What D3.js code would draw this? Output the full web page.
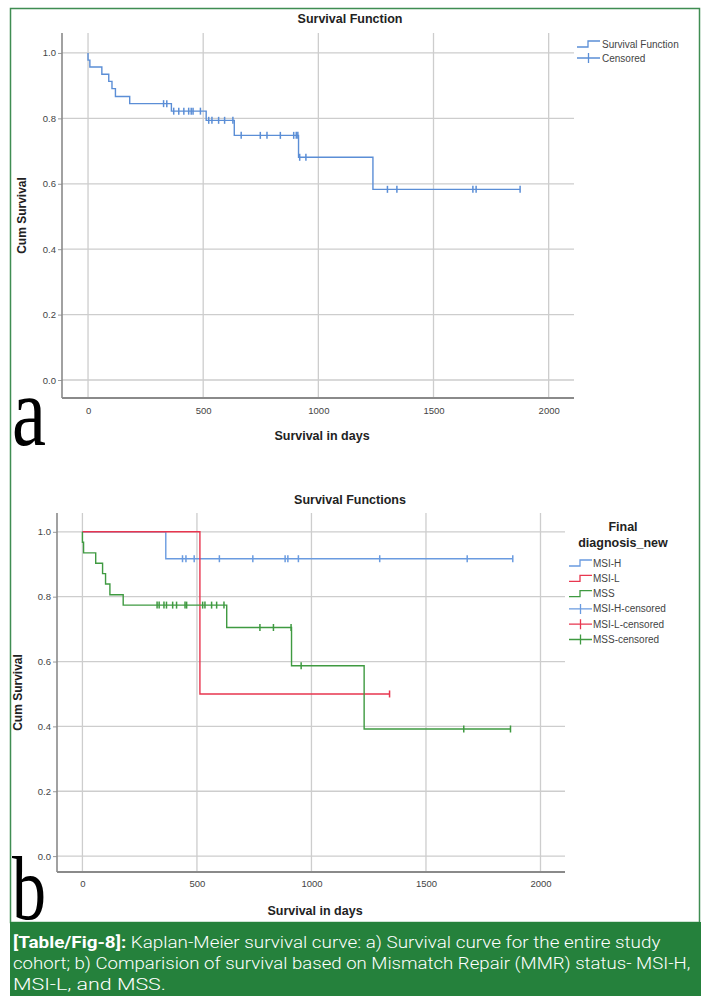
<!DOCTYPE html>
<html><head><meta charset="utf-8">
<script src="https://cdn.jsdelivr.net/npm/d3@7"></script>
<style>
html,body{margin:0;padding:0;background:#fff;}
svg{display:block;font-family:"Liberation Sans",Arial,sans-serif;}
</style></head>
<body>
<svg id="chart" width="701" height="996"></svg>
<script>
// ---------- DATA ----------
const xTicks = [0, 500, 1000, 1500, 2000];
const yTicks = [0.0, 0.2, 0.4, 0.6, 0.8, 1.0];

// Panel a: entire cohort
const allStepTimes = [0, 8, 60, 90, 104, 119, 181, 362, 513, 635, 914, 1237];
const allStepSurv  = [0.978, 0.957, 0.935, 0.913, 0.891, 0.867, 0.845, 0.822, 0.794, 0.748, 0.681, 0.583];
const allCensored  = [328, 342, 372, 394, 416, 437, 448, 456, 488, 524, 538, 567, 593, 629, 665, 748, 777, 835, 893, 904, 911, 919, 946, 1300, 1341, 1671, 1685, 1876];
const allEnd = 1876;

// Panel b: by MMR status
const groupNames = ["MSI-H", "MSI-L", "MSS"];
const msihStepTimes = [364];
const msihStepSurv  = [0.917];
const msihCensored  = [437, 452, 488, 598, 744, 885, 897, 943, 1298, 1680, 1879];
const msihEnd = 1879;

const msilStepTimes = [513];
const msilStepSurv  = [0.5];
const msilCensored  = [1341];
const msilEnd = 1341;

const mssStepTimes = [0, 5, 58, 88, 101, 120, 178, 630, 913, 1230];
const mssStepSurv  = [0.968, 0.935, 0.903, 0.871, 0.839, 0.806, 0.774, 0.705, 0.587, 0.392];
const mssCensored  = [326, 335, 356, 367, 394, 411, 448, 455, 525, 535, 564, 586, 618, 775, 834, 911, 955, 1665, 1869];
const mssEnd = 1869;

const legendA = ["Survival Function", "Censored"];
const legendB = ["MSI-H", "MSI-L", "MSS", "MSI-H-censored", "MSI-L-censored", "MSS-censored"];

// ---------- DRAW ----------
const svg = d3.select("#chart");
const W = 701, H = 996;
svg.append("rect").attr("width", W).attr("height", H).attr("fill", "#fff");

const GREEN = "#25813c";
const cols = {top: "#5b8ed6", "MSI-H": "#6a9be0", "MSI-L": "#e8364f", "MSS": "#3f9a41"};

function buildSteps(times, surv, end) {
  const pts = [[0, 1]];
  times.forEach((t, i) => pts.push([t, surv[i]]));
  pts.push([end, surv[surv.length - 1]]);
  return pts;
}
function survAt(times, surv, t) {
  let s = 1;
  times.forEach((tt, i) => { if (tt <= t) s = surv[i]; });
  return s;
}

function panel(cfg) {
  const g = svg.append("g");
  const x = d3.scaleLinear().domain(cfg.xd).range([cfg.left, cfg.right]);
  const y = d3.scaleLinear().domain(cfg.yd).range([cfg.bottom, cfg.top]);

  // grid
  g.append("g").selectAll("line").data(yTicks).join("line")
    .attr("x1", cfg.left).attr("x2", cfg.right)
    .attr("y1", d => y(d)).attr("y2", d => y(d))
    .attr("stroke", "#cdcdcd").attr("stroke-width", 1.3);
  g.append("g").selectAll("line").data(xTicks).join("line")
    .attr("x1", d => x(d)).attr("x2", d => x(d))
    .attr("y1", cfg.top).attr("y2", cfg.bottom)
    .attr("stroke", "#cdcdcd").attr("stroke-width", 1.3);

  // axes
  const ya = g.append("g").attr("transform", `translate(${cfg.left},0)`)
    .call(d3.axisLeft(y).tickValues(yTicks).tickFormat(d3.format(".1f")).tickSize(4).tickPadding(2));
  ya.select(".domain").remove();
  ya.selectAll("line").attr("stroke", "#999");
  ya.selectAll("text").attr("font-size", 9.5).attr("fill", "#444");
  const xa = g.append("g").attr("transform", `translate(0,${cfg.bottom})`)
    .call(d3.axisBottom(x).tickValues(xTicks).tickFormat(d3.format("d")).tickSize(0).tickPadding(cfg.xpad));
  xa.select(".domain").remove();
  xa.selectAll("text").attr("font-size", 9.5).attr("fill", "#444");
  g.append("line").attr("x1", cfg.left).attr("x2", cfg.left).attr("y1", cfg.top).attr("y2", cfg.bottom)
    .attr("stroke", "#8a8a8a").attr("stroke-width", 1.6);
  g.append("line").attr("x1", cfg.left).attr("x2", cfg.right).attr("y1", cfg.bottom).attr("y2", cfg.bottom)
    .attr("stroke", "#8a8a8a").attr("stroke-width", 1.8);

  // series
  const line = d3.line().x(d => x(d[0])).y(d => y(d[1])).curve(d3.curveStepAfter);
  cfg.series.forEach(s => {
    g.append("path").datum(buildSteps(s.times, s.surv, s.end))
      .attr("d", line).attr("fill", "none").attr("stroke", s.color).attr("stroke-width", 1.4);
    g.append("g").selectAll("line").data(s.cens).join("line")
      .attr("x1", d => x(d)).attr("x2", d => x(d))
      .attr("y1", d => y(survAt(s.times, s.surv, d)) - 3.5)
      .attr("y2", d => y(survAt(s.times, s.surv, d)) + 3.5)
      .attr("stroke", s.color).attr("stroke-width", 1.5);
  });

  // titles
  svg.append("text").attr("x", cfg.titleX).attr("y", cfg.titleY).attr("text-anchor", "middle")
    .attr("font-size", 12.5).attr("font-weight", "bold").attr("fill", "#222").text(cfg.title);
  svg.append("text").attr("x", (cfg.left + cfg.right) / 2 + 4).attr("y", cfg.xlabY).attr("text-anchor", "middle")
    .attr("font-size", 12.5).attr("font-weight", "bold").attr("fill", "#222").text("Survival in days");
  svg.append("text").attr("transform", `translate(${cfg.ylabX},${(cfg.top + cfg.bottom) / 2}) rotate(-90)`)
    .attr("text-anchor", "middle").attr("font-size", 12).attr("font-weight", "bold").attr("fill", "#222")
    .text("Cum Survival");
  return {x, y};
}

// Panel a
panel({
  left: 62, right: 574, top: 33, bottom: 398,
  xd: [-113, 2110], yd: [-0.055, 1.061], xpad: 9,
  title: "Survival Function", titleX: 350, titleY: 23, xlabY: 440, ylabX: 26,
  series: [{times: allStepTimes, surv: allStepSurv, end: allEnd, cens: allCensored, color: cols.top}]
});

// Panel b
panel({
  left: 57, right: 565, top: 513, bottom: 872,
  xd: [-111, 2107], yd: [-0.049, 1.058], xpad: 8,
  title: "Survival Functions", titleX: 350, titleY: 504, xlabY: 915, ylabX: 22,
  series: [
    {times: msihStepTimes, surv: msihStepSurv, end: msihEnd, cens: msihCensored, color: cols["MSI-H"]},
    {times: msilStepTimes, surv: msilStepSurv, end: msilEnd, cens: msilCensored, color: cols["MSI-L"]},
    {times: mssStepTimes, surv: mssStepSurv, end: mssEnd, cens: mssCensored, color: cols["MSS"]}
  ]
});

// Legend A
function stepIcon(g, x0, yc, color) {
  g.append("path").attr("d", `M${x0},${yc + 3}H${x0 + 11}V${yc - 3}H${x0 + 23}`)
    .attr("fill", "none").attr("stroke", color).attr("stroke-width", 1.3);
}
function censIcon(g, x0, yc, color) {
  g.append("path").attr("d", `M${x0},${yc}H${x0 + 23}M${x0 + 11.5},${yc - 5}V${yc + 5}`)
    .attr("fill", "none").attr("stroke", color).attr("stroke-width", 1.3);
}
const la = svg.append("g");
legendA.forEach((name, i) => {
  const yc = 44 + i * 14;
  if (i === 0) stepIcon(la, 577, yc, cols.top); else censIcon(la, 577, yc, cols.top);
  la.append("text").attr("x", 602).attr("y", yc + 3.5).attr("font-size", 10).attr("fill", "#444").text(name);
});

// Legend B
const lb = svg.append("g");
lb.append("text").attr("x", 623).attr("y", 531).attr("text-anchor", "middle").attr("font-size", 12.5)
  .attr("font-weight", "bold").attr("fill", "#222").text("Final");
lb.append("text").attr("x", 623).attr("y", 547).attr("text-anchor", "middle").attr("font-size", 12.5)
  .attr("font-weight", "bold").attr("fill", "#222").text("diagnosis_new");
legendB.forEach((name, i) => {
  const yc = 563 + i * 15.3;
  const c = cols[groupNames[i % 3]];
  if (i < 3) stepIcon(lb, 569, yc, c); else censIcon(lb, 569, yc, c);
  lb.append("text").attr("x", 593).attr("y", yc + 3.5).attr("font-size", 10).attr("fill", "#444").text(name);
});

// Panel letters
svg.append("text").attr("x", 12).attr("y", 445).attr("font-family", "'Liberation Serif','Times New Roman',serif")
  .attr("font-size", 100).attr("textLength", 34).attr("lengthAdjust", "spacingAndGlyphs").attr("fill", "#000").text("a");
svg.append("text").attr("x", 12).attr("y", 919).attr("font-family", "'Liberation Serif','Times New Roman',serif")
  .attr("font-size", 92).attr("textLength", 34).attr("lengthAdjust", "spacingAndGlyphs").attr("fill", "#000").text("b");

// Frame and caption
svg.append("rect").attr("x", 10.5).attr("y", 8.5).attr("width", 689).attr("height", 914)
  .attr("fill", "none").attr("stroke", "#3f8d52").attr("stroke-width", 1.5);
svg.append("rect").attr("x", 10).attr("y", 922).attr("width", 691).attr("height", 74).attr("fill", GREEN);

const capLines = [
  {bold: "[Table/Fig-8]:", rest: " Kaplan-Meier survival curve: a) Survival curve for the entire study", right: 661},
  {bold: "", rest: "cohort; b) Comparision of survival based on Mismatch Repair (MMR) status- MSI-H,", right: 691},
  {bold: "", rest: "MSI-L, and MSS.", right: 166}
];
capLines.forEach((l, i) => {
  const t = svg.append("text").attr("x", 13).attr("y", 948 + i * 21)
    .attr("font-family", "'Roboto','Liberation Sans',sans-serif").attr("font-size", 16.5).attr("fill", "#fff");
  if (l.bold) t.append("tspan").attr("font-weight", "bold").text(l.bold);
  t.append("tspan").attr("font-weight", 300).text(l.rest);
  const w = t.node().getComputedTextLength();
  const target = l.right - 13;
  t.attr("transform", `translate(13,0) scale(${target / w},1) translate(-13,0)`);
});
</script>
</body></html>
